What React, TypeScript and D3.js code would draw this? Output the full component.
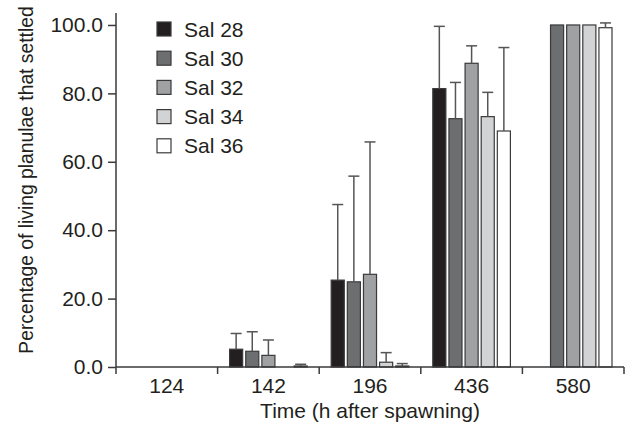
import React, { useRef, useEffect } from 'react';
import * as d3 from 'd3';

const W = 627;
const H = 427;

const times = ['124', '142', '196', '436', '580'];
const series = ['Sal 28', 'Sal 30', 'Sal 32', 'Sal 34', 'Sal 36'];
const fills = ['#231f20', '#6d6e70', '#a0a1a3', '#d2d3d5', '#ffffff'];

// mean % settled per time, one array per salinity
const sal28 = [0, 5.2, 25.4, 81.4, 0];
const sal30 = [0, 4.6, 24.9, 72.6, 100];
const sal32 = [0, 3.4, 27.1, 88.8, 100];
const sal34 = [0, 0, 1.4, 73.2, 100];
const sal36 = [0, 0.3, 0.3, 69.0, 99.2];
// upper end of error bars
const err28 = [0, 9.8, 47.5, 99.6, 0];
const err30 = [0, 10.3, 55.8, 83.2, 100];
const err32 = [0, 7.9, 65.8, 93.9, 100];
const err34 = [0, 0, 4.2, 80.3, 100];
const err36 = [0, 0.8, 1.0, 93.4, 100.6];

const yTicks = [0, 20, 40, 60, 80, 100];

export default function App() {
  const svgRef = useRef<SVGSVGElement>(null);

  useEffect(() => {
    const svg = d3.select(svgRef.current);
    svg.selectAll('*').remove();

    const values = [sal28, sal30, sal32, sal34, sal36];
    const errs = [err28, err30, err32, err34, err36];
    const rows = [];
    series.forEach((s, si) => {
      times.forEach((t, ti) => {
        rows.push({ s, si, t, v: values[si][ti], e: errs[si][ti] });
      });
    });

    const x = d3.scaleBand().domain(times).range([116, 624]).paddingInner(0).paddingOuter(0);
    const x1 = d3.scaleBand().domain(series).range([12, x.bandwidth() - 12]).paddingInner(0.19);
    const y = d3.scaleLinear().domain([0, 103.5]).range([367, 13]);

    const axisColor = '#3a3a3a';
    const textColor = '#231f20';
    const font = 'Liberation Sans, Arial, Helvetica, sans-serif';

    // bars
    const shown = rows.filter(d => d.v > 0);
    svg.append('g')
      .selectAll('rect')
      .data(shown)
      .join('rect')
      .attr('x', d => x(d.t) + x1(d.s))
      .attr('y', d => y(d.v))
      .attr('width', x1.bandwidth())
      .attr('height', d => y(0) - y(d.v))
      .attr('fill', d => fills[d.si])
      .attr('stroke', axisColor)
      .attr('stroke-width', 1.2);

    // error bars
    const eg = svg.append('g').attr('stroke', '#555').attr('stroke-width', 1.5);
    const withErr = rows.filter(d => d.e > d.v);
    eg.selectAll('line.v')
      .data(withErr)
      .join('line')
      .attr('class', 'v')
      .attr('x1', d => x(d.t) + x1(d.s) + x1.bandwidth() / 2)
      .attr('x2', d => x(d.t) + x1(d.s) + x1.bandwidth() / 2)
      .attr('y1', d => y(d.v))
      .attr('y2', d => y(d.e));
    eg.selectAll('line.c')
      .data(withErr)
      .join('line')
      .attr('class', 'c')
      .attr('x1', d => x(d.t) + x1(d.s) + x1.bandwidth() / 2 - 5.5)
      .attr('x2', d => x(d.t) + x1(d.s) + x1.bandwidth() / 2 + 5.5)
      .attr('y1', d => y(d.e))
      .attr('y2', d => y(d.e));

    // y axis
    const yAxis = svg.append('g')
      .attr('transform', 'translate(116,0)')
      .call(d3.axisLeft(y).tickValues(yTicks).tickFormat(d3.format('.1f')).tickSize(8).tickPadding(5));
    yAxis.select('.domain').attr('d', `M0,${y(103.5)}V${y(0)}`);
    yAxis.selectAll('line, path').attr('stroke', axisColor).attr('stroke-width', 1.5);
    yAxis.selectAll('text').attr('font-family', font).attr('font-size', 21).attr('fill', textColor);

    // x axis
    const boundaries = times.map(t => x(t)).concat([x.range()[1]]);
    const xg = svg.append('g');
    xg.append('line')
      .attr('x1', 116).attr('x2', 624)
      .attr('y1', y(0)).attr('y2', y(0))
      .attr('stroke', axisColor).attr('stroke-width', 1.5);
    xg.selectAll('line.tick')
      .data(boundaries)
      .join('line')
      .attr('class', 'tick')
      .attr('x1', d => d).attr('x2', d => d)
      .attr('y1', y(0)).attr('y2', y(0) + 7)
      .attr('stroke', axisColor).attr('stroke-width', 1.5);
    xg.selectAll('text')
      .data(times)
      .join('text')
      .attr('x', d => x(d) + x.bandwidth() / 2)
      .attr('y', 393)
      .attr('text-anchor', 'middle')
      .attr('font-family', font)
      .attr('font-size', 21)
      .attr('fill', textColor)
      .text(d => d);

    // axis titles
    svg.append('text')
      .attr('x', 370)
      .attr('y', 418)
      .attr('text-anchor', 'middle')
      .attr('font-family', font)
      .attr('font-size', 21)
      .attr('fill', textColor)
      .text('Time (h after spawning)');
    svg.append('text')
      .attr('transform', 'translate(33,180) rotate(-90)')
      .attr('text-anchor', 'middle')
      .attr('font-family', font)
      .attr('font-size', 19.3)
      .attr('fill', textColor)
      .text('Percentage of living planulae that settled');

    // legend
    const lg = svg.append('g').attr('transform', 'translate(157,22)');
    const item = lg.selectAll('g')
      .data(series)
      .join('g')
      .attr('transform', (d, i) => `translate(0,${i * 29.2})`);
    item.append('rect')
      .attr('width', 14).attr('height', 14)
      .attr('fill', (d, i) => fills[i])
      .attr('stroke', axisColor)
      .attr('stroke-width', 1.2);
    item.append('text')
      .attr('x', 27)
      .attr('y', 14.5)
      .attr('font-family', font)
      .attr('font-size', 21)
      .attr('fill', textColor)
      .text(d => d);
  }, []);

  return (
    <svg
      ref={svgRef}
      width={W}
      height={H}
      style={{ position: 'absolute', left: 0, top: 0, background: '#fff' }}
    />
  );
}
